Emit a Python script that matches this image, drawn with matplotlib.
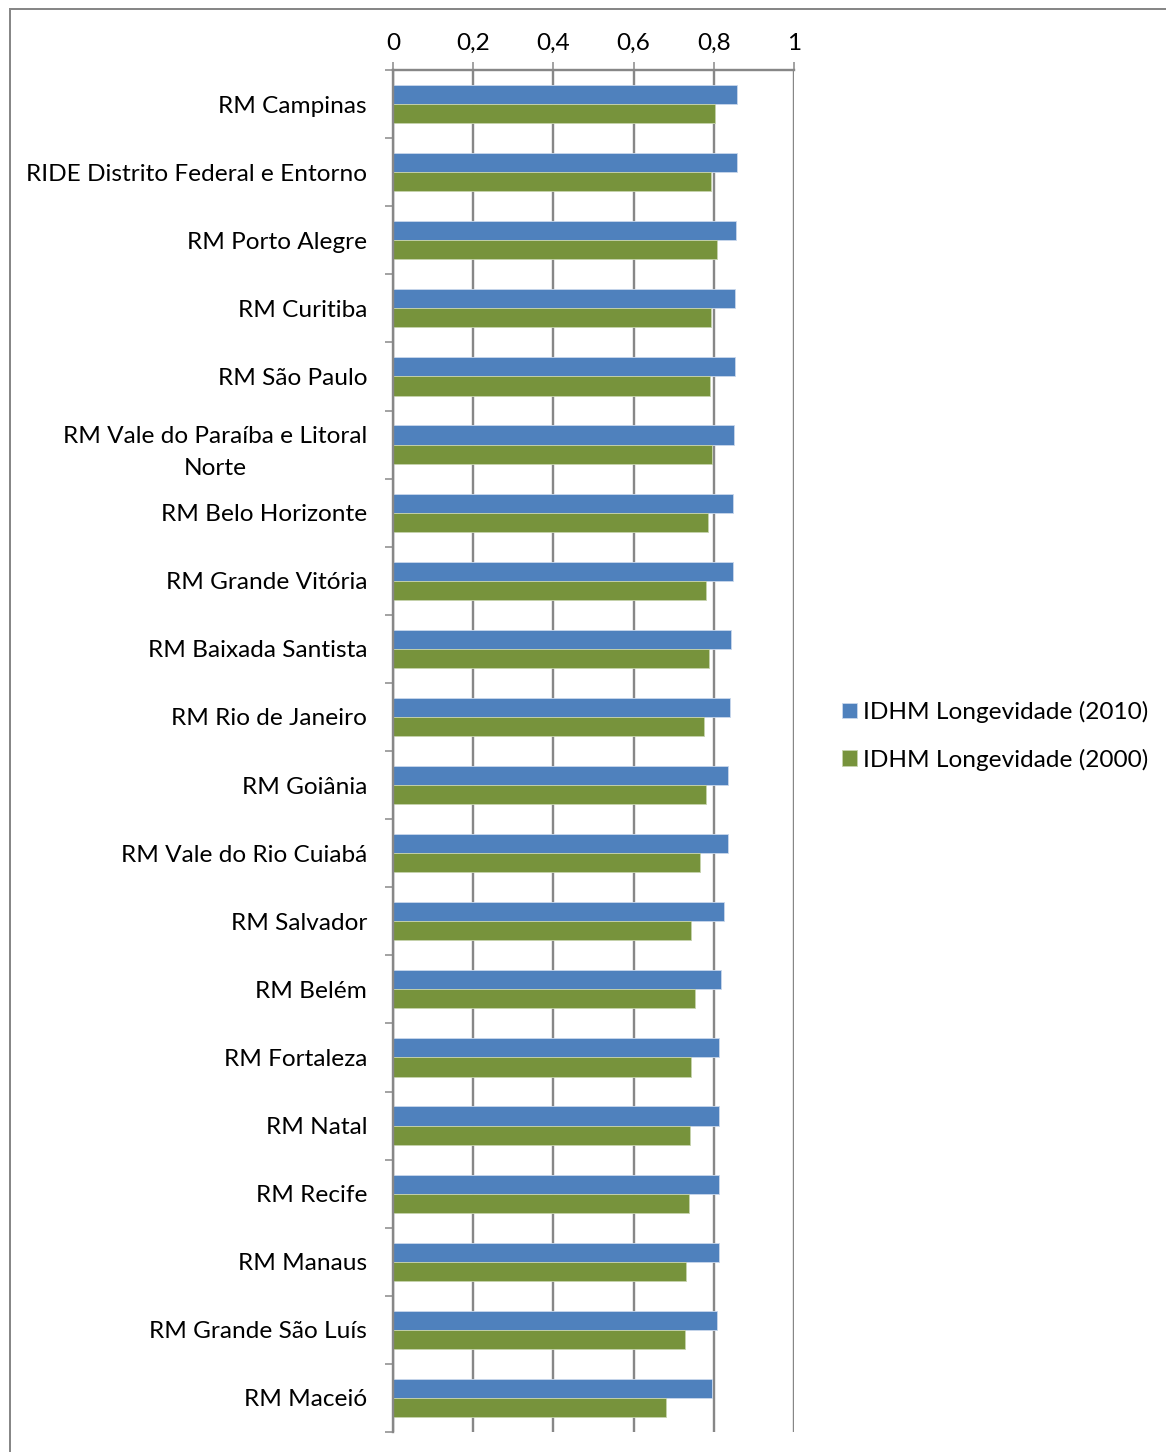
import matplotlib
matplotlib.use('Agg')
import matplotlib.pyplot as pyplot
import matplotlib.patches as patches
import numpy as np

pyplot.rcParams['font.family'] = ['Lato', 'DejaVu Sans']

regioes = [
    'RM Campinas',
    'RIDE Distrito Federal e Entorno',
    'RM Porto Alegre',
    'RM Curitiba',
    'RM São Paulo',
    'RM Vale do Paraíba e Litoral\nNorte',
    'RM Belo Horizonte',
    'RM Grande Vitória',
    'RM Baixada Santista',
    'RM Rio de Janeiro',
    'RM Goiânia',
    'RM Vale do Rio Cuiabá',
    'RM Salvador',
    'RM Belém',
    'RM Fortaleza',
    'RM Natal',
    'RM Recife',
    'RM Manaus',
    'RM Grande São Luís',
    'RM Maceió',
]

longevidade_2010 = [0.859, 0.857, 0.855, 0.853, 0.853, 0.851, 0.849, 0.848, 0.843, 0.840,
                    0.836, 0.835, 0.825, 0.817, 0.814, 0.814, 0.813, 0.812, 0.809, 0.796]
longevidade_2000 = [0.802, 0.792, 0.809, 0.793, 0.790, 0.796, 0.785, 0.780, 0.787, 0.776,
                    0.781, 0.766, 0.743, 0.752, 0.743, 0.741, 0.738, 0.730, 0.729, 0.682]

x_ticks = [0, 0.2, 0.4, 0.6, 0.8, 1]
x_tick_labels = ['0', '0,2', '0,4', '0,6', '0,8', '1']

COR_2010 = '#4F81BD'
COR_2000 = '#77933C'
CINZA = '#878787'
FONTE = 17.6
PX = 72 / 100  # pontos por pixel

W, H = 1166, 1452
fig = pyplot.figure(figsize=(W / 100, H / 100), dpi=100)

# moldura da área do gráfico (cortada à direita e embaixo)
fig.patches.append(patches.Rectangle((9.5 / W, -0.1), 1.2, 1 - 8.5 / H + 0.1,
                                     transform=fig.transFigure, fill=False,
                                     edgecolor=CINZA, lw=2 * PX))

axs = fig.add_axes([393 / W, 1 - 1432 / H, (794 - 393) / W, (1432 - 70) / H])

y = np.arange(len(regioes))
altura = 0.28
axs.barh(y - altura / 2, longevidade_2010, height=altura, color=COR_2010,
         edgecolor='#c9d8ec', lw=0.6, label='IDHM Longevidade (2010)', zorder=3)
axs.barh(y + altura / 2, longevidade_2000, height=altura, color=COR_2000,
         edgecolor='#c6d3ad', lw=0.6, label='IDHM Longevidade (2000)', zorder=3)

axs.set_xlim(0, 1)
axs.set_ylim(len(regioes) - 0.5, -0.5)

# eixo x no topo, grade vertical
axs.xaxis.tick_top()
axs.set_xticks(x_ticks)
axs.set_xticklabels(x_tick_labels, fontsize=FONTE)
axs.tick_params(axis='x', direction='out', length=8 * PX, width=1.5 * PX,
                color=CINZA, pad=8 * PX)
axs.grid(axis='x', color=CINZA, lw=2.4 * PX, zorder=0)

# rótulos no centro de cada grupo, marcas entre categorias
axs.set_yticks(y)
axs.set_yticklabels(regioes, fontsize=FONTE, multialignment='center')
for rotulo in axs.get_yticklabels():
    rotulo.set_linespacing(1.7)
axs.set_yticks(np.arange(len(regioes) + 1) - 0.5, minor=True)
axs.tick_params(axis='y', which='major', length=0, pad=26 * PX)
axs.tick_params(axis='y', which='minor', direction='out', length=8 * PX,
                width=1.5 * PX, color=CINZA)

for lado in ['right', 'bottom']:
    axs.spines[lado].set_visible(False)
for lado in ['top', 'left']:
    axs.spines[lado].set_color(CINZA)
    axs.spines[lado].set_linewidth(2.4 * PX)
    axs.spines[lado].set_zorder(4)

axs.legend(loc='center left', bbox_to_anchor=(842 / W, 1 - 736 / H),
           bbox_transform=fig.transFigure, frameon=False, fontsize=FONTE,
           handlelength=0.62, handleheight=0.62, handletextpad=0.25, labelspacing=1.05,
           borderaxespad=0, borderpad=0)

fig.savefig('out.png', dpi=100)
pyplot.close(fig)
